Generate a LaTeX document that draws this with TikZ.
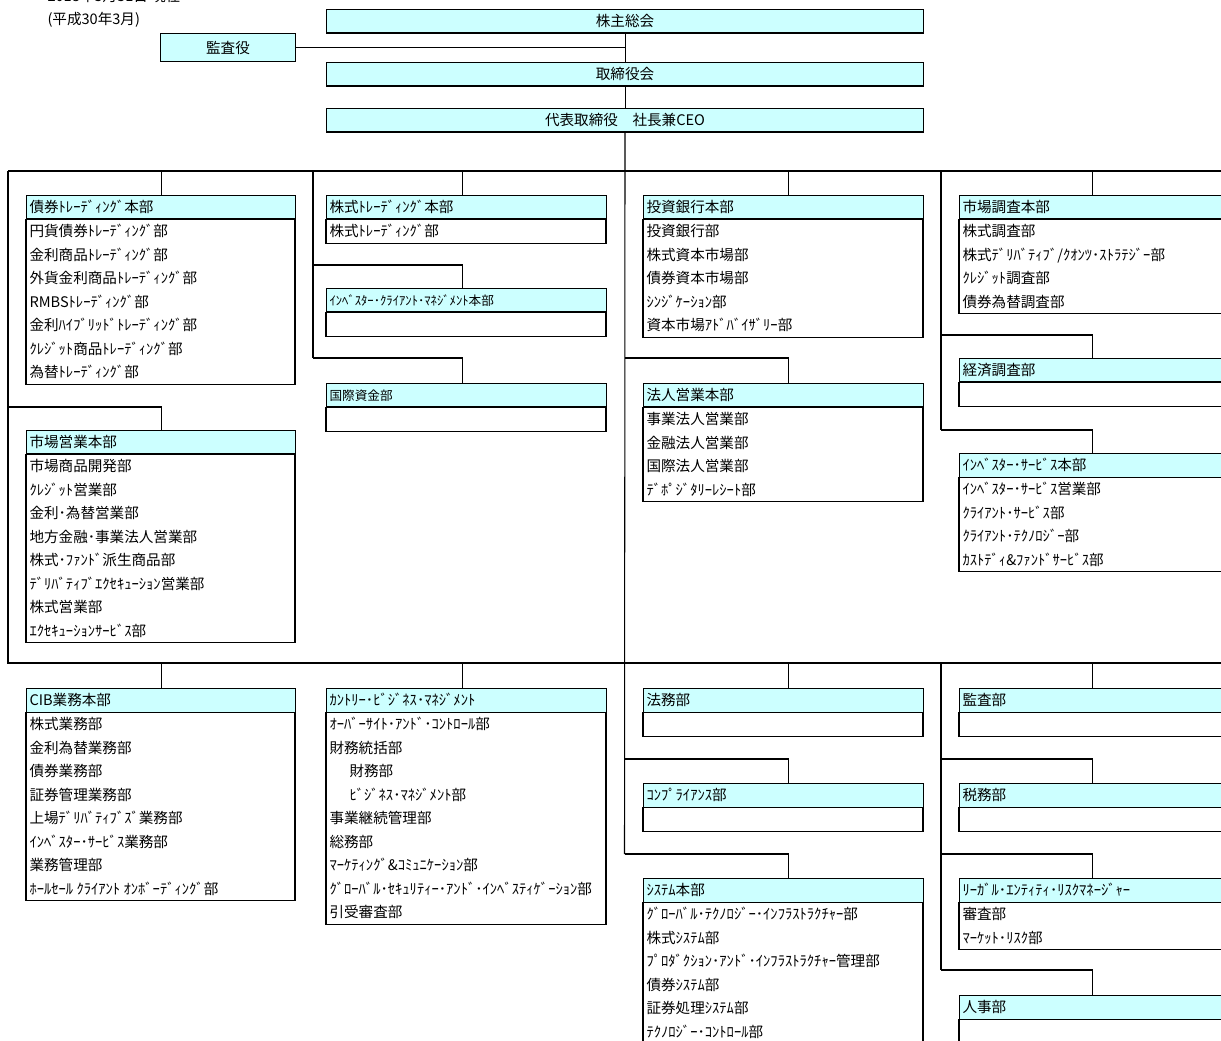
\documentclass[tikz,border=0pt]{standalone}
\usepackage{fontspec}
\setmainfont{Noto Sans CJK JP}
\usepackage{xcolor}
\definecolor{hdrcyan}{RGB}{204,255,255}
\newcommand{\pxu}{0.02cm}
\newcommand{\fnorm}{\fontsize{8.3pt}{9pt}\selectfont}
\newcommand{\fsmall}{\fontsize{7.2pt}{8pt}\selectfont}
\tikzset{
  hdr/.style={draw, fill=hdrcyan, anchor=north west, inner xsep=0.06cm, inner ysep=0pt,
    minimum height=0.47cm, font=\fnorm, text height=0.8em, text depth=0.2em},
  rowtext/.style={anchor=west, inner xsep=0.06cm, inner ysep=0pt, font=\fnorm,
    text height=0.8em, text depth=0.2em},
  topbox/.style={draw, fill=hdrcyan, anchor=north west, inner sep=0pt,
    minimum height=0.47cm, font=\fnorm}
}
% \dept{name}{x}{y}{width}{rows}{title}{items}
\newcommand{\dept}[7]{%
  \pgfmathsetlengthmacro\dtw{(#4-6)*\pxu}%
  \node[hdr, text width=\dtw] (#1) at (#2,#3) {#6};
  \draw (#1.south west) rectangle ++(#4,{#5*23.5});
  \foreach \t [count=\i] in {#7}
    \node[rowtext, yshift={-(\i-0.5)*23.5*\pxu}] (#1-\i) at (#1.south west) {\t};
}

\begin{document}
\begin{tikzpicture}[x=0.02cm, y=-0.02cm, line width=0.6pt]
\useasboundingbox (0,0) rectangle (1221,1041);

\node[anchor=base west, inner sep=0pt, font=\fnorm] (asof) at (47,2) {2018年3月31日 現在};
\node[anchor=base west, inner sep=0pt, font=\fnorm] (heisei) at (47,25) {(平成30年3月)};

\node[topbox, minimum width=597*\pxu] (agm) at (326,9) {株主総会};
\node[topbox, minimum width=135*\pxu, minimum height=28*\pxu] (kansa) at (160,33) {監査役};
\node[topbox, minimum width=597*\pxu] (board) at (326,62) {取締役会};
\node[topbox, minimum width=597*\pxu] (ceo) at (326,108) {代表取締役　社長兼CEO};

\draw (agm) -- (board);
\draw (board) -- (ceo);
\draw (kansa.east) -- (kansa.east -| agm.south);

\dept{bond}{26}{195}{269}{7}{債券ﾄﾚｰﾃﾞｨﾝｸﾞ本部}{円貨債券ﾄﾚｰﾃﾞｨﾝｸﾞ部, 金利商品ﾄﾚｰﾃﾞｨﾝｸﾞ部,
  外貨金利商品ﾄﾚｰﾃﾞｨﾝｸﾞ部, RMBSﾄﾚｰﾃﾞｨﾝｸﾞ部, 金利ﾊｲﾌﾞﾘｯﾄﾞﾄﾚｰﾃﾞｨﾝｸﾞ部,
  ｸﾚｼﾞｯﾄ商品ﾄﾚｰﾃﾞｨﾝｸﾞ部, 為替ﾄﾚｰﾃﾞｨﾝｸﾞ部}
\dept{mkt}{26}{430}{269}{8}{市場営業本部}{市場商品開発部, ｸﾚｼﾞｯﾄ営業部, 金利･為替営業部,
  地方金融･事業法人営業部, 株式･ﾌｧﾝﾄﾞ派生商品部, ﾃﾞﾘﾊﾞﾃｨﾌﾞｴｸｾｷｭｰｼｮﾝ営業部,
  株式営業部, ｴｸｾｷｭｰｼｮﾝｻｰﾋﾞｽ部}
\dept{cib}{26}{688}{269}{8}{CIB業務本部}{株式業務部, 金利為替業務部, 債券業務部,
  証券管理業務部, 上場ﾃﾞﾘﾊﾞﾃｨﾌﾞｽﾞ業務部, ｲﾝﾍﾞｽﾀｰ･ｻｰﾋﾞｽ業務部, 業務管理部,
  ﾎｰﾙｾｰﾙ ｸﾗｲｱﾝﾄ ｵﾝﾎﾞｰﾃﾞｨﾝｸﾞ部}

\dept{eqt}{326}{195}{280}{1}{株式ﾄﾚｰﾃﾞｨﾝｸﾞ本部}{株式ﾄﾚｰﾃﾞｨﾝｸﾞ部}
\dept{icm}{326}{288}{280}{1}{\fsmall ｲﾝﾍﾞｽﾀｰ･ｸﾗｲｱﾝﾄ･ﾏﾈｼﾞﾒﾝﾄ本部}{}
\dept{tsy}{326}{383}{280}{1}{\fsmall 国際資金部}{}
\dept{cbm}{326}{688}{280}{9}{ｶﾝﾄﾘｰ･ﾋﾞｼﾞﾈｽ･ﾏﾈｼﾞﾒﾝﾄ}{ｵｰﾊﾞｰｻｲﾄ･ｱﾝﾄﾞ･ｺﾝﾄﾛｰﾙ部, 財務統括部,
  \hspace*{0.4cm}財務部, \hspace*{0.4cm}ﾋﾞｼﾞﾈｽ･ﾏﾈｼﾞﾒﾝﾄ部, 事業継続管理部, 総務部,
  ﾏｰｹﾃｨﾝｸﾞ\&ｺﾐｭﾆｹｰｼｮﾝ部, ｸﾞﾛｰﾊﾞﾙ･ｾｷｭﾘﾃｨｰ･ｱﾝﾄﾞ･ｲﾝﾍﾞｽﾃｨｹﾞｰｼｮﾝ部, 引受審査部}

\dept{ibd}{643}{195}{280}{5}{投資銀行本部}{投資銀行部, 株式資本市場部, 債券資本市場部,
  ｼﾝｼﾞｹｰｼｮﾝ部, 資本市場ｱﾄﾞﾊﾞｲｻﾞﾘｰ部}
\dept{corp}{643}{383}{280}{4}{法人営業本部}{事業法人営業部, 金融法人営業部, 国際法人営業部,
  ﾃﾞﾎﾟｼﾞﾀﾘｰﾚｼｰﾄ部}
\dept{legal}{643}{688}{280}{1}{法務部}{}
\dept{comp}{643}{783}{280}{1}{ｺﾝﾌﾟﾗｲｱﾝｽ部}{}
\dept{sys}{643}{878}{280}{6}{ｼｽﾃﾑ本部}{ｸﾞﾛｰﾊﾞﾙ･ﾃｸﾉﾛｼﾞｰ･ｲﾝﾌﾗｽﾄﾗｸﾁｬｰ部, 株式ｼｽﾃﾑ部,
  ﾌﾟﾛﾀﾞｸｼｮﾝ･ｱﾝﾄﾞ･ｲﾝﾌﾗｽﾄﾗｸﾁｬｰ管理部, 債券ｼｽﾃﾑ部, 証券処理ｼｽﾃﾑ部, ﾃｸﾉﾛｼﾞｰ･ｺﾝﾄﾛｰﾙ部}

\dept{res}{959}{195}{266}{4}{市場調査本部}{株式調査部, 株式ﾃﾞﾘﾊﾞﾃｨﾌﾞ/ｸｵﾝﾂ･ｽﾄﾗﾃｼﾞｰ部,
  ｸﾚｼﾞｯﾄ調査部, 債券為替調査部}
\dept{econ}{959}{358}{266}{1}{経済調査部}{}
\dept{isv}{959}{453}{266}{4}{ｲﾝﾍﾞｽﾀｰ･ｻｰﾋﾞｽ本部}{ｲﾝﾍﾞｽﾀｰ･ｻｰﾋﾞｽ営業部, ｸﾗｲｱﾝﾄ･ｻｰﾋﾞｽ部,
  ｸﾗｲｱﾝﾄ･ﾃｸﾉﾛｼﾞｰ部, ｶｽﾄﾃﾞｨ\&ﾌｧﾝﾄﾞｻｰﾋﾞｽ部}
\dept{audit}{959}{688}{266}{1}{監査部}{}
\dept{tax}{959}{783}{266}{1}{税務部}{}
\dept{lerm}{959}{878}{266}{2}{ﾘｰｶﾞﾙ･ｴﾝﾃｨﾃｨ･ﾘｽｸﾏﾈｰｼﾞｬｰ}{審査部, ﾏｰｹｯﾄ･ﾘｽｸ部}
\dept{hr}{959}{995}{266}{1}{人事部}{}

\coordinate (t1a) at (8,171);
\coordinate (t1b) at (8,407);
\coordinate (t1c) at (8,663);
\coordinate (t2a) at (313,171);
\coordinate (t2b) at (313,265);
\coordinate (t2c) at (313,358);
\coordinate (t2d) at (313,663);
\coordinate (t3a) at (624.5,171);
\coordinate (t3b) at (624.5,358);
\coordinate (t3c) at (624.5,663);
\coordinate (t3d) at (624.5,759);
\coordinate (t3e) at (624.5,854);
\coordinate (t4a) at (941,171);
\coordinate (t4b) at (941,335);
\coordinate (t4c) at (941,430);
\coordinate (t4d) at (941,663);
\coordinate (t4e) at (941,759);
\coordinate (t4f) at (941,854);
\coordinate (t4g) at (941,970);
\coordinate (busR) at (1230,171);
\coordinate (botR) at (1230,663);

\draw (t1a) -- (busR);
\draw (t1a) -- (t1c) -- (botR);
\draw (t2a) -- (t2c);
\draw (ceo) -- (t3e);
\draw (t4a) -- (t4c);
\draw (t4d) -- (t4g);

\foreach \j/\n/\dx in {t1a/bond/0, t1b/mkt/0, t1c/cib/0, t2a/eqt/-0.08, t2b/icm/-0.08,
    t2c/tsy/-0.08, t2d/cbm/-0.08, t3a/ibd/0.1, t3b/corp/0.1, t3c/legal/0.1, t3d/comp/0.1,
    t3e/sys/0.1, t4a/res/0, t4b/econ/0, t4c/isv/0, t4d/audit/0, t4e/tax/0, t4f/lerm/0,
    t4g/hr/0}
  \draw (\j) -| ([xshift=\dx cm]\n.north);
\end{tikzpicture}
\end{document}
